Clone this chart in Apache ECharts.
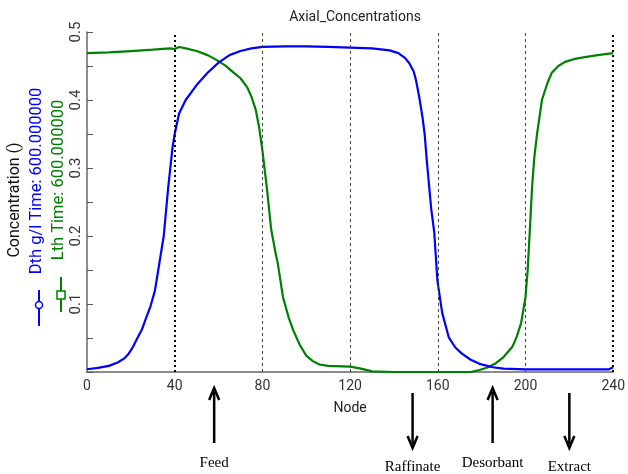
<!DOCTYPE html>
<html>
<head>
<meta charset="utf-8">
<script src="https://cdn.jsdelivr.net/npm/echarts@6/dist/echarts.min.js"></script>
<style>
  html, body { margin: 0; padding: 0; background: #fff; }
  #main { width: 628px; height: 474px; }
</style>
</head>
<body>
<div id="main"></div>
<script>
// node positions and concentrations
const dthData = [
    [0, 0.004], [5, 0.006], [10, 0.009], [14, 0.014], [17, 0.02], [19, 0.027], [21, 0.037],
    [23, 0.05], [25, 0.062], [27, 0.08], [29, 0.097], [31, 0.12], [33, 0.16], [35, 0.2],
    [37, 0.27], [39, 0.33], [40, 0.35], [42, 0.38], [45, 0.40], [50, 0.422], [55, 0.44],
    [60, 0.455], [65, 0.466], [70, 0.472], [75, 0.476], [80, 0.478], [90, 0.479], [100, 0.479],
    [110, 0.478], [120, 0.477], [130, 0.476], [138, 0.473], [142, 0.469], [145, 0.462],
    [147, 0.454], [149, 0.442], [150, 0.43], [151.5, 0.405], [153, 0.375], [154, 0.35],
    [155, 0.31], [156, 0.275], [157, 0.24], [158.4, 0.205], [159.8, 0.135], [162, 0.087],
    [165, 0.051], [168, 0.036], [171, 0.027], [175, 0.018], [179, 0.012], [185, 0.007],
    [190, 0.005], [200, 0.004], [220, 0.004], [238, 0.004], [240, 0.007]
];
const lthData = [
    [0, 0.469], [10, 0.47], [20, 0.472], [30, 0.474], [38, 0.476], [40, 0.475], [42, 0.478],
    [45, 0.476], [50, 0.472], [55, 0.466], [59, 0.459], [63, 0.451], [67, 0.44], [70, 0.432],
    [73, 0.419], [75, 0.405], [77, 0.385], [78.5, 0.36], [80, 0.326], [82, 0.272], [84, 0.21],
    [86, 0.175], [87, 0.16], [89.4, 0.11], [92, 0.08], [94, 0.062], [97, 0.04], [100, 0.024],
    [103, 0.016], [106, 0.011], [110, 0.009], [120, 0.008], [125, 0.005], [130, 0.001],
    [140, 0], [175, 0], [179, 0.003], [183, 0.007], [186.5, 0.013], [190, 0.022], [194, 0.037],
    [196, 0.052], [198, 0.072], [200, 0.11], [201, 0.15], [202, 0.21], [203, 0.272],
    [204, 0.315], [205.3, 0.351], [207.5, 0.4], [210, 0.425], [212, 0.44], [215, 0.45],
    [218, 0.456], [222, 0.46], [227, 0.463], [233, 0.466], [240, 0.469]
];
const switchNodes = [40, 80, 120, 160, 200, 240];
const portNames = ['Feed', 'Raffinate', 'Desorbant', 'Extract'];
const portNodes = [58, 148.5, 185, 220];
const portDir = ['up', 'down', 'up', 'down'];

const chart = echarts.init(document.getElementById('main'));

const BLUE = '#0000ff';
const GREEN = '#008000';

const markData = switchNodes.map(function (n) {
    const heavy = (n === 40 || n === 240);
    return {
        xAxis: n,
        lineStyle: heavy
            ? { color: '#000', width: 2, type: [2, 3] }
            : { color: '#444', width: 1, type: [3, 3] }
    };
});

const option = {
    backgroundColor: '#fff',
    animation: false,
    grid: { left: 87, right: 13, top: 32, bottom: 102 },
    xAxis: {
        type: 'value',
        min: 0, max: 240, interval: 40,
        name: 'Node',
        nameLocation: 'middle',
        nameGap: 29,
        nameTextStyle: { color: '#222', fontSize: 14, fontFamily: 'Roboto' },
        axisLine: { show: true, lineStyle: { color: '#666', width: 1.5 } },
        axisTick: { show: false },
        splitLine: { show: false },
        axisLabel: { color: '#333', fontSize: 14, fontFamily: 'Roboto', margin: 7 }
    },
    yAxis: {
        type: 'value',
        min: 0, max: 0.5, interval: 0.1,
        axisLine: { show: true, lineStyle: { color: '#666', width: 1.5 } },
        axisTick: { show: true, inside: true, length: 6, lineStyle: { color: '#555' } },
        minorTick: { show: true, splitNumber: 2, length: 6, lineStyle: { color: '#555' } },
        splitLine: { show: false },
        axisLabel: {
            color: '#333', fontSize: 15, fontFamily: 'Roboto', rotate: 90, margin: 3,
            formatter: function (v) { return v === 0 ? '' : v.toFixed(1); }
        }
    },
    series: [{
        name: 'Dth',
        type: 'line',
        data: dthData,
        showSymbol: false,
        lineStyle: { color: BLUE, width: 2.2 },
        z: 3,
        markLine: {
            silent: true,
            symbol: 'none',
            label: { show: false },
            data: markData
        }
    }, {
        name: 'Lth',
        type: 'line',
        data: lthData,
        showSymbol: false,
        lineStyle: { color: GREEN, width: 2.2 },
        z: 2
    }]
};
chart.setOption(option);

// title, rotated y label with the little legend keys, and the port arrows
const graphics = [];
graphics.push({
    type: 'text', x: 355, y: 17,
    style: { text: 'Axial_Concentrations', fill: '#222', font: '14px Roboto', align: 'center', verticalAlign: 'middle' }
});
graphics.push({
    type: 'text', x: 15, y: 200, rotation: Math.PI / 2,
    style: { text: 'Concentration ()', fill: '#111', font: '16px Roboto', align: 'center', verticalAlign: 'middle' }
});
graphics.push({
    type: 'text', x: 37, y: 181, rotation: Math.PI / 2,
    style: { text: 'Dth g/l Time: 600.000000', fill: BLUE, font: '16.5px Roboto', align: 'center', verticalAlign: 'middle' }
});
graphics.push({
    type: 'text', x: 59, y: 180, rotation: Math.PI / 2,
    style: { text: 'Lth Time: 600.000000', fill: GREEN, font: '16.5px Roboto', align: 'center', verticalAlign: 'middle' }
});
graphics.push({ type: 'line', shape: { x1: 39, y1: 290, x2: 39, y2: 326 }, style: { stroke: BLUE, lineWidth: 2 } });
graphics.push({ type: 'circle', shape: { cx: 39, cy: 305, r: 3.5 }, style: { stroke: BLUE, fill: '#fff', lineWidth: 1.5 } });
graphics.push({ type: 'line', shape: { x1: 61, y1: 277, x2: 61, y2: 312 }, style: { stroke: GREEN, lineWidth: 2 } });
graphics.push({ type: 'rect', shape: { x: 57, y: 291, width: 8, height: 8 }, style: { stroke: GREEN, fill: '#fff', lineWidth: 1.5 } });

portNodes.forEach(function (n, i) {
    const px = chart.convertToPixel({ gridIndex: 0 }, [n, 0])[0];
    const up = portDir[i] === 'up';
    const top = up ? 388 : 393;
    const bot = top + 55;
    const headY = up ? top : bot;
    const dy = up ? 12 : -12;
    graphics.push({ type: 'line', shape: { x1: px, y1: top + (up ? 4 : 0), x2: px, y2: bot - (up ? 0 : 4) }, style: { stroke: '#000', lineWidth: 2.5 } });
    graphics.push({
        type: 'polyline',
        shape: { points: [[px - 5, headY + dy], [px, headY], [px + 5, headY + dy]] },
        style: { stroke: '#000', lineWidth: 2.5, fill: null }
    });
    graphics.push({
        type: 'text', x: px, y: up ? 463 : 467,
        style: { text: portNames[i], fill: '#000', font: '15px "Liberation Serif"', align: 'center', verticalAlign: 'middle' }
    });
});

chart.setOption({ graphic: graphics });
</script>
</body>
</html>
